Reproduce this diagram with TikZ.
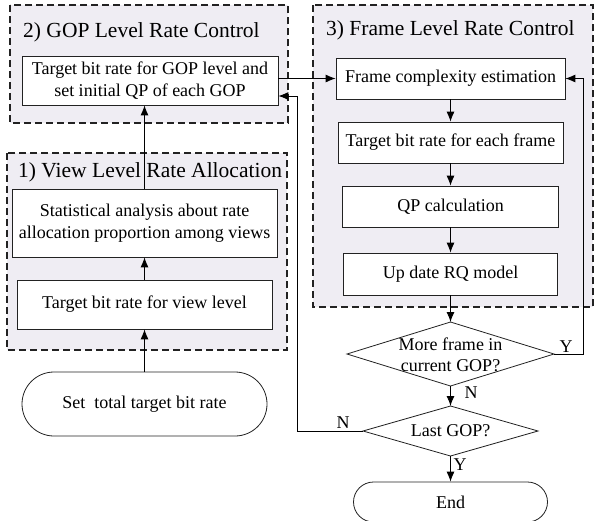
\documentclass[tikz,border=0pt]{standalone}
\usepackage{fontspec}
\setmainfont{Liberation Serif}
\usetikzlibrary{arrows.meta}
\definecolor{grpfill}{HTML}{EFEDF3}
\definecolor{linec}{HTML}{222222}
\tikzset{
  grp/.style={draw=linec, dashed, dash pattern=on 7pt off 4pt, line width=1.1pt, fill=grpfill},
  grptitle/.style={anchor=west, inner sep=0pt, font=\fontsize{21.5}{24}\selectfont},
  pbox/.style={draw=linec, line width=0.8pt, fill=white, inner sep=0pt, align=center, font=\fontsize{18}{21.5}\selectfont},
  term/.style={pbox, rounded corners=20pt},
  dshape/.style={draw=linec, line width=0.8pt, fill=white},
  dtext/.style={inner sep=0pt, align=center, font=\fontsize{18}{21}\selectfont},
  arr/.style={draw=black, line width=0.9pt, -{Latex[length=10pt,width=8pt]}},
  lbl/.style={inner sep=0pt, font=\fontsize{18}{21}\selectfont},
}
\begin{document}
\begin{tikzpicture}[x=1pt,y=-1pt]
\useasboundingbox (0,0) rectangle (596,520);
% groups
\draw[grp] (10,5) rectangle (288,123);
\draw[grp] (7,153) rectangle (287,350);
\draw[grp] (313,5) rectangle (593,307);
\node[grptitle] (t2) at (23,32) {2) GOP Level Rate Control};
\node[grptitle] (t3) at (326,30) {3) Frame Level Rate Control};
\node[grptitle] (t1) at (18,172) {1) View Level Rate Allocation};
% left column
\node[pbox, minimum width=256pt, minimum height=49pt] (gop) at (150,80.5) {Target bit rate for GOP level and\\set initial QP of each GOP};
\node[pbox, minimum width=265pt, minimum height=68pt] (stat) at (144.5,223) {Statistical analysis about rate\\allocation proportion among views};
\node[pbox, minimum width=255pt, minimum height=49pt] (view) at (144.5,304.5) {Target bit rate for view level};
\node[term, rounded corners=32pt, minimum width=245pt, minimum height=64pt] (start) at (144.5,404) {Set\ \ total target bit rate};
% right column
\node[pbox, minimum width=229pt, minimum height=41pt] (frame) at (450.5,78.5) {Frame complexity estimation};
\node[pbox, minimum width=225pt, minimum height=41pt] (tgt) at (450.5,142.5) {Target bit rate for each frame};
\node[pbox, minimum width=216pt, minimum height=41pt] (qp) at (450.5,206.5) {QP calculation};
\node[pbox, minimum width=214pt, minimum height=42pt] (upd) at (450.5,274) {Up date RQ model};
% decision 1
\coordinate (d1n) at (450.5,322);
\coordinate (d1e) at (554,354);
\coordinate (d1s) at (450.5,386);
\coordinate (d1w) at (347,354);
\draw[dshape] (d1n) -- (d1e) -- (d1s) -- (d1w) -- cycle;
\node[dtext] (d1) at (450.5,355) {More frame in\\current GOP?};
% decision 2
\coordinate (d2n) at (450.5,406);
\coordinate (d2e) at (538,431);
\coordinate (d2s) at (450.5,456);
\coordinate (d2w) at (363,431);
\draw[dshape] (d2n) -- (d2e) -- (d2s) -- (d2w) -- cycle;
\node[dtext] (d2) at (450.5,431) {Last GOP?};
\node[term, minimum width=194pt, minimum height=40pt] (end) at (450.5,502) {End};
% helper coordinates
\coordinate (nx) at (297,96);
\coordinate (yx) at (583,0);
% connectors
\draw[arr] (start.north) -- (view.south);
\draw[arr] (view.north) -- (stat.south);
\draw[arr] (stat.north) -- (stat.north |- gop.south);
\draw[arr] (gop.east |- frame.west) -- (frame.west);
\draw[arr] (frame.south) -- (tgt.north);
\draw[arr] (tgt.south) -- (qp.north);
\draw[arr] (qp.south) -- (upd.north);
\draw[arr] (upd.south) -- (d1n);
\draw[arr] (d1s) -- (d2n);
\draw[arr] (d2s) -- (end.north);
\draw[arr] (d1e) -| (yx |- frame.east) -- (frame.east);
\draw[arr] (d2w) -| (nx) -- (nx -| gop.east);
% labels
\node[lbl] (ly1) at (566,347) {Y};
\node[lbl] (ln1) at (471,393) {N};
\node[lbl] (ln2) at (343,423) {N};
\node[lbl] (ly2) at (460,465) {Y};
\end{tikzpicture}
\end{document}
